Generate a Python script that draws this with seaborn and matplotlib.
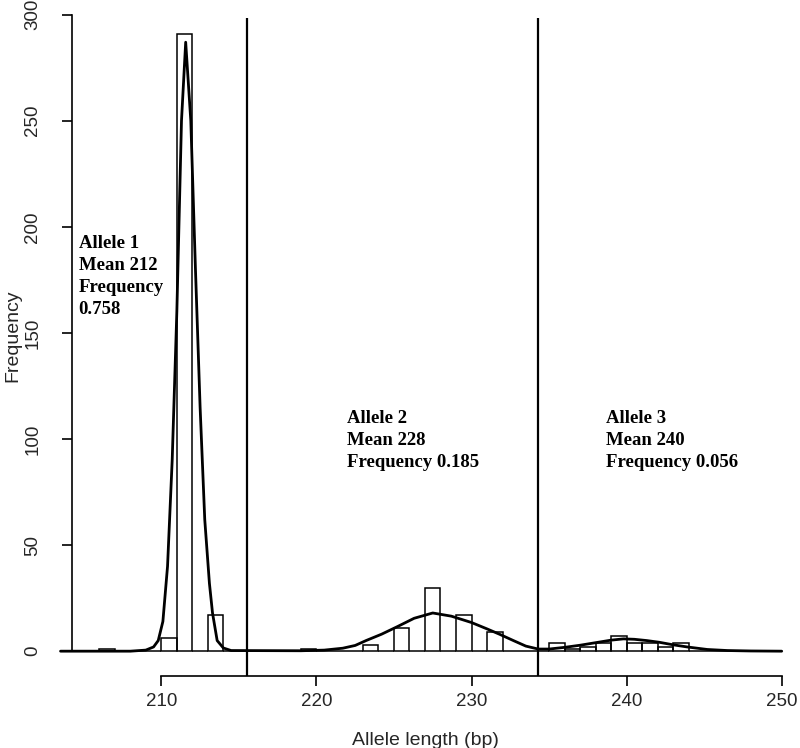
import numpy as np
import pandas as pd
import matplotlib
matplotlib.use("Agg")
import matplotlib.pyplot as plt
import seaborn as sns

# ---- data ----
bin_left = [206, 210, 211, 213, 219, 223, 225, 227, 229, 231,
            235, 236, 237, 238, 239, 240, 241, 242, 243]
bin_count = [1, 6, 291, 17, 1, 3, 11, 30, 17, 9,
             4, 1, 2, 4, 7, 4, 4, 2, 4]
bin_edges = list(range(204, 251))

curve_x = [203.5, 208.0, 209.0, 209.5, 209.8, 210.1, 210.4, 210.7, 211.0, 211.3,
           211.57, 211.9, 212.2, 212.5, 212.8, 213.1, 213.3, 213.6, 214.0, 214.5,
           219.0, 220.5, 221.7, 222.5, 223.2, 224.2, 225.2, 226.3, 227.5, 228.7,
           230.0, 231.0, 231.8, 232.7, 233.5, 234.3, 235.0, 236.0, 237.0, 238.0,
           239.0, 239.8, 240.5, 241.3, 242.1, 243.0, 243.9, 245.2, 246.5, 248.0,
           250.0]
curve_y = [0, 0, 0.5, 2, 5, 14, 40, 90, 160, 250,
           287, 250, 180, 115, 62, 32, 18, 5, 1.5, 0.3,
           0.2, 0.5, 1.4, 2.7, 5, 8, 11.5, 15.5, 18, 16.5,
           13.5, 10.5, 8, 5, 2.4, 1.0, 1.0, 1.8, 2.8, 4.0,
           5.2, 5.8, 5.6, 5.0, 4.2, 3.0, 2.0, 0.8, 0.3, 0.1,
           0]

cut_points = [215.5, 234.3]

x_ticks = [210, 220, 230, 240, 250]
y_ticks = [0, 50, 100, 150, 200, 250, 300]

labels = [
    (204.66, [190.0, 179.6, 169.2, 158.8], ["Allele 1", "Mean 212", "Frequency", "0.758"]),
    (222.0, [107.7, 97.3, 86.9], ["Allele 2", "Mean 228", "Frequency 0.185"]),
    (238.66, [107.7, 97.3, 86.9], ["Allele 3", "Mean 240", "Frequency 0.056"]),
]

# ---- plot ----
sns.set_style("white")
plt.rcParams["font.family"] = ["Liberation Sans", "DejaVu Sans"]

fig = plt.figure(figsize=(8.0, 7.48), dpi=100)
ax = fig.add_axes([72 / 800, 72 / 748, 737 / 800, 669 / 748])

hist_df = pd.DataFrame({"x": [b + 0.5 for b in bin_left], "w": bin_count})
sns.histplot(data=hist_df, x="x", weights="w", bins=bin_edges, fill=False,
             color="black", linewidth=1.1, element="bars", ax=ax)

curve_df = pd.DataFrame({"x": curve_x, "y": curve_y})
sns.lineplot(data=curve_df, x="x", y="y", color="black", linewidth=2.0,
             ax=ax, clip_on=False)

ax.vlines(cut_points, -11.7, 298.5, color="black", linewidth=1.6, clip_on=False)

ax.set_xlim(204.24, 251.76)
ax.set_ylim(-11.7, 303.6)

for sp in ["top", "right"]:
    ax.spines[sp].set_visible(False)
ax.spines["left"].set_bounds(0, 300)
ax.spines["bottom"].set_bounds(210, 250)
for sp in ["left", "bottom"]:
    ax.spines[sp].set_linewidth(1.2)
    ax.spines[sp].set_color("black")

ax.set_xticks(x_ticks)
ax.set_yticks(y_ticks)
ax.tick_params(axis="both", direction="out", length=7, width=1.2, color="black",
               labelsize=13.5, bottom=True, left=True)
ax.tick_params(axis="x", pad=5)
ax.tick_params(axis="y", pad=15)
plt.setp(ax.get_yticklabels(), rotation=90, va="center", ha="right")

ax.set_xlabel("Allele length (bp)", fontsize=14)
ax.set_ylabel("Frequency", fontsize=14)
ax.yaxis.label.set_verticalalignment("center")
ax.yaxis.label.set_horizontalalignment("center")
ax.xaxis.set_label_coords(0.48, -0.084)
ax.yaxis.set_label_coords(-0.080, 0.508)

for x0, ys, lines in labels:
    for y0, t in zip(ys, lines):
        ax.text(x0, y0, t, fontsize=13.5, fontweight="bold",
                family=["Liberation Serif", "DejaVu Serif"],
                ha="left", va="baseline", color="black")

fig.savefig("out.png", dpi=100)
